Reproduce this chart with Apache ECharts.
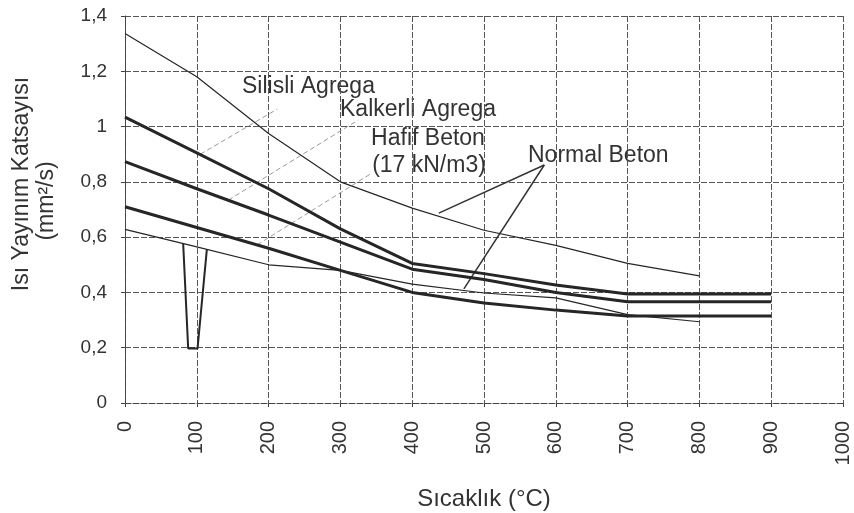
<!DOCTYPE html>
<html>
<head>
    <meta charset="utf-8">
    <title>Isı Yayınım Katsayısı</title>
    <script src="https://cdn.jsdelivr.net/npm/echarts@6/dist/echarts.min.js"></script>
</head>
<body style="margin:0;background:#fff;">
<div id="main" style="width:854px;height:513px;"></div>
<script type="text/javascript">
    // sıcaklık (°C)
    var temps = [0, 100, 200, 300, 400, 500, 600, 700, 800, 900];
    // eğriler (mm²/s)
    var thinTop = [1.337, 1.18, 0.975, 0.80, 0.705, 0.625, 0.57, 0.505, 0.46];
    var thick1 = [1.034, 0.905, 0.775, 0.63, 0.505, 0.468, 0.427, 0.394, 0.394, 0.394];
    var thick2 = [0.873, 0.775, 0.68, 0.582, 0.484, 0.447, 0.40, 0.366, 0.366, 0.366];
    var thick3 = [0.71, 0.635, 0.56, 0.48, 0.40, 0.362, 0.336, 0.315, 0.315, 0.315];
    var thinLow = [0.628, 0.565, 0.50, 0.48, 0.43, 0.398, 0.38, 0.32, 0.294];
    // 100 °C civarındaki sivri çıkıntı
    var spikeX = [81, 88, 101, 114];
    var spikeY = [0.578, 0.197, 0.197, 0.556];

    // etiket çizgileri (veri koordinatında)
    var leaderSilisli = [[105, 0.90], [212, 1.063]];
    var leaderKalkerli = [[144, 0.734], [325, 1.024]];
    var leaderHafif = [[184, 0.572], [344, 0.832]];
    var leaderNormal1 = [[437, 0.687], [584, 0.861]];
    var leaderNormal2 = [[584, 0.861], [472, 0.413]];

    var xTicks = [0, 100, 200, 300, 400, 500, 600, 700, 800, 900, 1000];

    function pairs(xs, ys) {
        var out = [];
        for (var i = 0; i < ys.length; i++) out.push([xs[i], ys[i]]);
        return out;
    }

    function curve(data, width) {
        return {
            type: 'line', data: data, showSymbol: false, silent: true,
            lineStyle: {color: '#262626', width: width}
        };
    }

    function leader(data, dashed) {
        return {
            type: 'line', data: data, showSymbol: false, silent: true, z: 1,
            lineStyle: dashed ? {color: '#9a9a9a', width: 1, type: [5, 3]} : {color: '#333', width: 1.5}
        };
    }

    var myChart = echarts.init(document.getElementById('main'));
    var font = 'Liberation Sans, Arial, sans-serif';

    var option = {
        animation: false,
        backgroundColor: '#fff',
        grid: {left: 125, right: 11, top: 16, bottom: 110, containLabel: false, outerBoundsMode: 'none'},
        xAxis: {
            type: 'value', min: xTicks[0], max: xTicks[xTicks.length - 1], interval: 100,
            name: 'Sıcaklık (°C)', nameLocation: 'middle', nameGap: 84,
            nameTextStyle: {fontSize: 24, color: '#333', fontFamily: font},
            axisLine: {lineStyle: {color: '#444', type: [6, 2]}},
            axisTick: {show: true, length: 4, lineStyle: {color: '#444'}},
            axisLabel: {
                rotate: 90, margin: 18, fontSize: 20, color: '#333', fontFamily: font,
                formatter: function (v) { return String(v); }
            },
            splitLine: {show: true, lineStyle: {color: '#555', type: [6, 2]}}
        },
        yAxis: {
            type: 'value', min: 0, max: 1.4, interval: 0.2,
            axisLine: {show: true, lineStyle: {color: '#444', type: [6, 2]}},
            axisTick: {show: true, length: 4, lineStyle: {color: '#444'}},
            axisLabel: {
                margin: 18, fontSize: 19, color: '#333', fontFamily: font,
                formatter: function (v) { return String(+v.toFixed(1)).replace('.', ','); }
            },
            splitLine: {show: true, lineStyle: {color: '#555', type: [6, 2]}}
        },
        graphic: [
            {type: 'text', x: 22, y: 184, rotation: Math.PI / 2,
                style: {text: 'Isı Yayınım Katsayısı', fill: '#333', font: '23px ' + font, align: 'center', verticalAlign: 'middle'}},
            {type: 'text', x: 47, y: 201, rotation: Math.PI / 2,
                style: {text: '(mm²/s)', fill: '#333', font: '23px ' + font, align: 'center', verticalAlign: 'middle'}},
            {type: 'text', x: 242, y: 87,
                style: {text: 'Silisli Agrega', fill: '#333', font: '23px ' + font, align: 'left', verticalAlign: 'middle'}},
            {type: 'text', x: 340, y: 110,
                style: {text: 'Kalkerli Agrega', fill: '#333', font: '23px ' + font, align: 'left', verticalAlign: 'middle'}},
            {type: 'text', x: 428, y: 139,
                style: {text: 'Hafif Beton', fill: '#333', font: '23px ' + font, align: 'center', verticalAlign: 'middle'}},
            {type: 'text', x: 429, y: 166,
                style: {text: '(17 kN/m3)', fill: '#333', font: '23px ' + font, align: 'center', verticalAlign: 'middle'}},
            {type: 'text', x: 528, y: 156,
                style: {text: 'Normal Beton', fill: '#333', font: '23px ' + font, align: 'left', verticalAlign: 'middle'}}
        ],
        series: [
            leader(leaderSilisli, true),
            leader(leaderKalkerli, true),
            leader(leaderHafif, true),
            leader(leaderNormal1, false),
            leader(leaderNormal2, false),
            curve(pairs(temps, thinTop), 1.2),
            curve(pairs(temps, thick1), 3),
            curve(pairs(temps, thick2), 3),
            curve(pairs(temps, thick3), 3),
            curve(pairs(temps, thinLow), 1.2),
            curve(pairs(spikeX, spikeY), 2)
        ]
    };

    myChart.setOption(option);
</script>
</body>
</html>
